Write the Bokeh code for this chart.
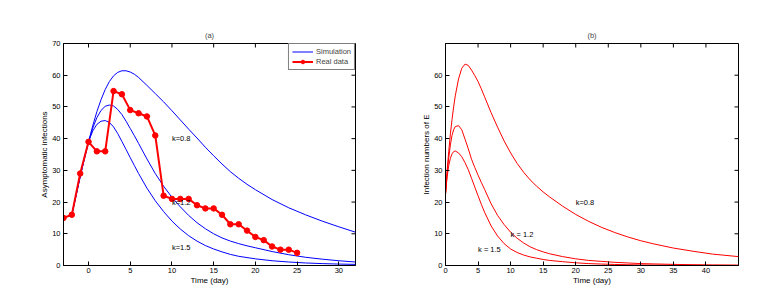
import math
from bokeh.plotting import figure
from bokeh.layouts import row
from bokeh.models import (FixedTicker, Legend, LegendItem, Range1d, Label)
from bokeh.embed import file_html
from bokeh.resources import INLINE

FONT = "Liberation Sans"

# ---------------- Panel (a) data ----------------
real_days = list(range(-3, 26))
real_cases = [15, 16, 29, 39, 36, 36, 55, 54, 49, 48, 47, 41, 22, 21, 21, 21,
              19, 18, 18, 16, 13, 13, 11, 9, 8, 6, 5, 5, 4]

sim_days_a = [-2, -1.5, -1, -0.5, 0, 0.5, 1, 1.5, 2, 2.5, 3, 3.5, 4, 4.5, 5, 5.5, 6,
              7, 8, 9, 10, 11, 12, 13, 14, 15, 16, 17, 18, 19, 20, 22, 24, 26, 28, 30, 32]
sim_a_k08 = [16, 22, 28, 33.6, 39, 44, 48.5, 52.3, 55.5, 58, 59.8, 60.9, 61.4, 61.4, 61,
             60.3, 59.3, 56.8, 54.2, 51.6, 48.8, 45.9, 43, 40.2, 37.3, 34.6, 32, 29.6,
             27.5, 25.6, 23.9, 20.8, 18.2, 16, 14, 12.2, 10.5]
sim_a_k12 = [16, 22, 28, 33.7, 39, 43.3, 46.6, 48.9, 50.2, 50.6, 50.3, 49.2, 47.6, 45.5,
             43.2, 40.9, 38.5, 33.6, 29, 25, 21.5, 18.5, 15.8, 13.5, 11.6, 10, 8.7, 7.7,
             6.9, 6.2, 5.6, 4.4, 3.4, 2.6, 2.0, 1.5, 1.1]
sim_a_k15 = [16, 22.2, 28.3, 34, 39, 42.4, 44.5, 45.5, 45.7, 45.1, 43.7, 41.6, 39.1, 36.6,
             34, 31.5, 29, 24.4, 20.4, 17, 14, 11.5, 9.4, 7.7, 6.3, 5.2, 4.3, 3.5, 2.9,
             2.5, 2.1, 1.5, 1.1, 0.8, 0.6, 0.45, 0.35]

xrange_a = (-3, 32)
yrange_a = (0, 70)
xticks_a = [0, 5, 10, 15, 20, 25, 30]
yticks_a = [0, 10, 20, 30, 40, 50, 60, 70]

# ---------------- Panel (b) data ----------------
sim_days_b = [0, 0.25, 0.5, 0.75, 1, 1.25, 1.5, 2, 2.5, 3, 3.5, 4, 4.5, 5, 5.5, 6, 7, 8,
              9, 10, 11, 12, 13, 14, 15, 16, 18, 20, 22, 24, 26, 28, 30, 32, 35, 38, 41, 45]
sim_b_k08 = [22.5, 30, 36, 41.5, 46, 50, 53.5, 58.8, 62.2, 63.5, 63.1, 61.6, 59.9, 58,
             55.7, 53.2, 48.2, 43.6, 39.3, 35.5, 32.2, 29.4, 27, 25, 23.2, 21.6, 18.7, 16.1,
             13.9, 12, 10.4, 9, 7.8, 6.8, 5.5, 4.5, 3.6, 2.8]
sim_b_k12 = [22.5, 29, 34, 38, 41, 42.8, 43.8, 44.1, 42.8, 39.8, 36.8, 33.5, 30.9, 28.5,
             26.2, 24, 19.5, 15.8, 12.9, 10.5, 8.6, 7.1, 5.9, 5, 4.3, 3.7, 2.8, 2.1, 1.6,
             1.3, 1.0, 0.8, 0.6, 0.5, 0.35, 0.25, 0.18, 0.12]
sim_b_k15 = [22.5, 28, 31.5, 33.8, 35.2, 35.9, 36.1, 35.5, 34.3, 32.4, 30.2, 27.5, 24.7,
             22, 19.3, 16.8, 12.5, 9.3, 6.9, 5.2, 4.1, 3.3, 2.7, 2.3, 1.9, 1.6, 1.2, 0.85,
             0.6, 0.45, 0.33, 0.25, 0.18, 0.13, 0.09, 0.06, 0.04, 0.03]

xrange_b = (0, 45)
yrange_b = (0, 70)
xticks_b = [0, 5, 10, 15, 20, 25, 30, 35, 40, 45]
xlabels_b = {45: ""}
yticks_b = [0, 10, 20, 30, 40, 50, 60, 70]
ylabels_b = {70: ""}


def style_panel(p, xticks, yticks, xover, yover, xlabel, ylabel, xr, yr):
    p.grid.visible = False
    p.outline_line_color = "black"
    p.outline_line_width = 1
    p.background_fill_color = "white"
    p.border_fill_color = "white"
    for ax in p.xaxis:
        ax.ticker = FixedTicker(ticks=xticks)
        ax.major_label_overrides = xover
    for ax in p.yaxis:
        ax.ticker = FixedTicker(ticks=yticks)
        ax.major_label_overrides = yover
    for ax in list(p.xaxis) + list(p.yaxis):
        ax.minor_tick_line_color = None
        ax.major_tick_in = 4
        ax.major_tick_out = 0
        ax.axis_line_color = "black"
        ax.major_tick_line_color = "black"
        ax.major_label_text_font = FONT
        ax.major_label_text_font_size = "7.5px"
        ax.major_label_text_color = "black"
        ax.major_label_standoff = 3
        ax.axis_label_text_font = FONT
        ax.axis_label_text_font_size = "8px"
        ax.axis_label_text_font_style = "normal"
        ax.axis_label_text_color = "black"
        ax.axis_label_standoff = 0
    p.xaxis.major_label_standoff = 2
    p.xaxis.axis_label = xlabel
    p.yaxis.axis_label = ylabel
    # mirrored ticks on the top and right sides of the box (Matlab style)
    p.ray(x=xticks, y=[yr[1]] * len(xticks), length=4, length_units="screen",
          angle=-math.pi / 2, line_color="black", line_width=1)
    p.ray(x=[xr[1]] * len(yticks), y=yticks, length=4, length_units="screen",
          angle=math.pi, line_color="black", line_width=1)
    p.title.text_font = FONT
    p.title.text_font_size = "7.5px"
    p.title.text_font_style = "normal"
    p.title.align = "center"
    p.title.standoff = 7


# ---------------- Panel (a) ----------------
pa = figure(frame_width=292, frame_height=222, x_range=Range1d(*xrange_a), y_range=Range1d(*yrange_a),
            output_backend="svg", toolbar_location=None, title="(a)",
            min_border_left=63, min_border_right=45, min_border_top=43, min_border_bottom=20)
style_panel(pa, xticks_a, yticks_a, {}, {}, "Time (day)", "Asymptomatic infections",
            xrange_a, yrange_a)

r1 = pa.line(sim_days_a, sim_a_k08, line_color="blue", line_width=1)
pa.line(sim_days_a, sim_a_k12, line_color="blue", line_width=1)
pa.line(sim_days_a, sim_a_k15, line_color="blue", line_width=1)
r2 = pa.line(real_days, real_cases, line_color="red", line_width=2)
r3 = pa.scatter(real_days, real_cases, size=5.5, fill_color="red", line_color="red")

for txt, tx, ty in [("k=0.8", 10, 40), ("k=1.2", 10, 19.8), ("k=1.5", 10, 5.8)]:
    pa.add_layout(Label(x=tx, y=ty, text=txt, text_font=FONT, text_font_size="7.5px",
                        text_baseline="middle", text_align="left", text_color="black"))

legend = Legend(items=[LegendItem(label="Simulation", renderers=[r1]),
                       LegendItem(label="Real data", renderers=[r2, r3])],
                location="top_right", border_line_color="black", border_line_width=1,
                label_text_font=FONT, label_text_font_size="7.5px", glyph_width=21,
                glyph_height=9, label_height=9, spacing=1, padding=3, margin=0,
                label_standoff=3, background_fill_alpha=1)
pa.add_layout(legend, "center")

# ---------------- Panel (b) ----------------
pb = figure(frame_width=293, frame_height=222, x_range=Range1d(*xrange_b), y_range=Range1d(*yrange_b),
            output_backend="svg", toolbar_location=None, title="(b)",
            min_border_left=45, min_border_right=12, min_border_top=43, min_border_bottom=20)
style_panel(pb, xticks_b, yticks_b, xlabels_b, ylabels_b, "Time (day)", "Infection numbers of E",
            xrange_b, yrange_b)

pb.line(sim_days_b, sim_b_k08, line_color="red", line_width=1)
pb.line(sim_days_b, sim_b_k12, line_color="red", line_width=1)
pb.line(sim_days_b, sim_b_k15, line_color="red", line_width=1)

for txt, tx, ty in [("k=0.8", 20, 19.9), ("k = 1.2", 10, 9.7), ("k = 1.5", 5, 5.0)]:
    pb.add_layout(Label(x=tx, y=ty, text=txt, text_font=FONT, text_font_size="7.5px",
                        text_baseline="middle", text_align="left", text_color="black"))

layout = row(pa, pb)
open("out.html", "w").write(file_html(layout, INLINE))
